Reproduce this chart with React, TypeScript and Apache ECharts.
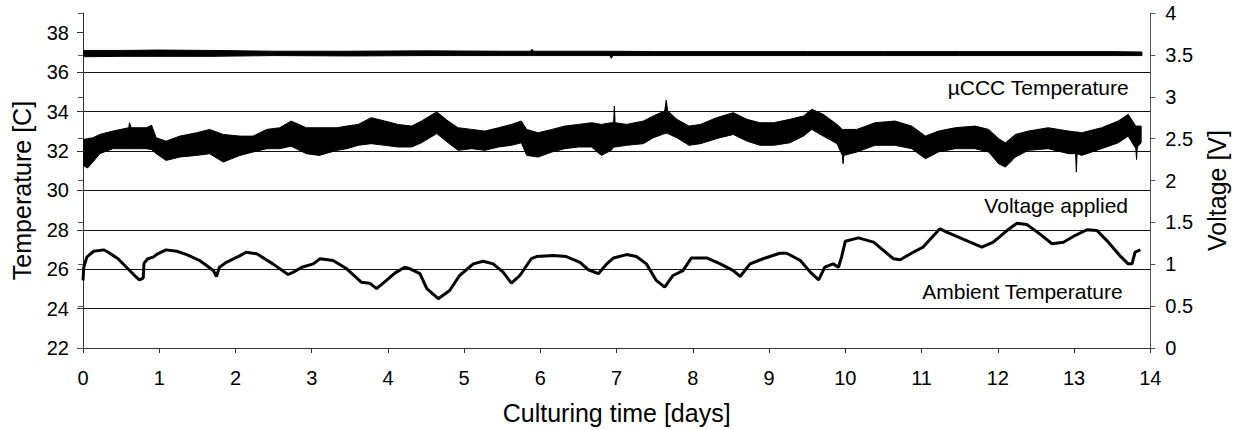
import React, { useEffect, useRef } from "react";
import * as echarts from "echarts";

const FONT = "'Liberation Sans', Arial, Helvetica, sans-serif";

// Axis ticks
const dayTicks = [0, 1, 2, 3, 4, 5, 6, 7, 8, 9, 10, 11, 12, 13, 14];
const tempTicks = [22, 24, 26, 28, 30, 32, 34, 36, 38];
const voltTicks = [0, 0.5, 1, 1.5, 2, 2.5, 3, 3.5, 4];

// Series labels
const seriesLabels = ["µCCC Temperature", "Voltage applied", "Ambient Temperature"];

// Ambient temperature [day, °C]
const ambientTemp: [number, number][] = [
  [0.0, 25.43], [0.01, 26.1], [0.05, 26.61], [0.14, 26.91], [0.27, 26.98], [0.31, 26.91],
  [0.46, 26.53], [0.57, 26.1], [0.7, 25.59], [0.74, 25.46], [0.79, 25.55], [0.8, 26.3],
  [0.85, 26.53], [0.92, 26.61], [0.98, 26.78], [1.09, 26.98], [1.23, 26.91], [1.36, 26.74],
  [1.53, 26.44], [1.71, 25.93], [1.75, 25.63], [1.79, 26.1], [1.88, 26.35], [2.06, 26.69],
  [2.14, 26.86], [2.28, 26.78], [2.49, 26.27], [2.69, 25.73], [2.76, 25.85], [2.87, 26.1],
  [3.02, 26.27], [3.11, 26.53], [3.28, 26.44], [3.46, 26.02], [3.65, 25.34], [3.76, 25.29],
  [3.85, 25.01], [3.98, 25.43], [4.09, 25.8], [4.22, 26.1], [4.29, 26.02], [4.42, 25.77],
  [4.51, 25.01], [4.66, 24.5], [4.81, 24.92], [4.94, 25.68], [5.12, 26.27], [5.25, 26.4],
  [5.38, 26.27], [5.51, 25.85], [5.62, 25.29], [5.73, 25.68], [5.88, 26.53], [5.95, 26.64],
  [6.17, 26.69], [6.34, 26.64], [6.52, 26.35], [6.63, 25.97], [6.76, 25.77], [6.87, 26.27],
  [6.96, 26.57], [7.13, 26.74], [7.26, 26.64], [7.39, 26.27], [7.52, 25.43], [7.63, 25.09],
  [7.74, 25.68], [7.87, 25.93], [7.98, 26.57], [8.18, 26.57], [8.36, 26.27], [8.53, 25.93],
  [8.62, 25.63], [8.75, 26.27], [8.92, 26.53], [9.14, 26.81], [9.23, 26.81], [9.41, 26.44],
  [9.54, 25.85], [9.65, 25.46], [9.73, 26.1], [9.84, 26.27], [9.91, 26.1], [9.95, 26.61],
  [10.0, 27.42], [10.17, 27.59], [10.37, 27.37], [10.63, 26.53], [10.72, 26.48], [10.89, 26.86],
  [11.02, 27.12], [11.24, 28.05], [11.33, 27.88], [11.59, 27.45], [11.79, 27.12], [11.94, 27.37],
  [12.12, 27.96], [12.25, 28.33], [12.38, 28.27], [12.55, 27.79], [12.71, 27.29], [12.86, 27.37],
  [12.99, 27.66], [13.17, 28.0], [13.3, 27.96], [13.43, 27.45], [13.6, 26.69], [13.71, 26.27],
  [13.76, 26.27], [13.8, 26.86], [13.87, 26.98],
];

// µCCC temperature noise envelope [day, low °C, high °C]
const ucccTemp: [number, number, number][] = [
  [0.0, 36.78, 37.1], [0.5, 36.8, 37.1], [1.0, 36.8, 37.12], [1.7, 36.8, 37.1],
  [2.5, 36.84, 37.06], [3.5, 36.82, 37.06], [4.5, 36.84, 37.08], [5.5, 36.84, 37.06],
  [5.87, 36.84, 37.06], [5.89, 36.84, 37.16], [5.91, 36.84, 37.06],
  [6.91, 36.84, 37.06], [6.93, 36.7, 37.06], [6.95, 36.84, 37.06],
  [7.5, 36.84, 37.04], [8.5, 36.84, 37.04], [9.5, 36.84, 37.04], [10.5, 36.84, 37.04],
  [11.5, 36.84, 37.04], [12.5, 36.84, 37.04], [13.5, 36.84, 37.04], [13.89, 36.84, 37.02],
];

// Voltage applied noise envelope [day, low V, high V]
const voltage: [number, number, number][] = [
  [0.0, 2.18, 2.49], [0.06, 2.15, 2.5], [0.13, 2.22, 2.51], [0.22, 2.32, 2.55], [0.39, 2.38, 2.59],
  [0.6, 2.38, 2.63], [0.61, 2.38, 2.69], [0.63, 2.38, 2.63], [0.83, 2.38, 2.63], [0.9, 2.37, 2.66],
  [0.96, 2.32, 2.51], [1.09, 2.24, 2.47], [1.27, 2.28, 2.53], [1.49, 2.3, 2.57], [1.66, 2.32, 2.61],
  [1.84, 2.22, 2.55], [2.06, 2.3, 2.53], [2.23, 2.34, 2.53], [2.41, 2.38, 2.61], [2.58, 2.38, 2.63],
  [2.73, 2.41, 2.71], [2.93, 2.32, 2.63], [3.1, 2.3, 2.63], [3.33, 2.36, 2.63], [3.46, 2.38, 2.65],
  [3.61, 2.42, 2.67], [3.78, 2.44, 2.75], [3.96, 2.42, 2.71], [4.13, 2.4, 2.67], [4.31, 2.4, 2.65],
  [4.44, 2.45, 2.71], [4.64, 2.56, 2.82], [4.79, 2.45, 2.71], [4.92, 2.36, 2.63], [5.1, 2.38, 2.61],
  [5.27, 2.36, 2.59], [5.45, 2.4, 2.63], [5.62, 2.42, 2.67], [5.75, 2.45, 2.71], [5.82, 2.3, 2.61],
  [5.97, 2.28, 2.57], [6.15, 2.34, 2.61], [6.32, 2.38, 2.65], [6.5, 2.4, 2.67], [6.67, 2.4, 2.69],
  [6.8, 2.3, 2.67], [6.93, 2.36, 2.69], [6.96, 2.4, 2.69], [6.97, 2.4, 2.89], [6.98, 2.4, 2.69],
  [7.13, 2.42, 2.67], [7.35, 2.44, 2.71], [7.48, 2.51, 2.77], [7.63, 2.56, 2.83], [7.65, 2.56, 2.96],
  [7.67, 2.56, 2.83], [7.79, 2.51, 2.73], [7.95, 2.42, 2.65], [8.1, 2.44, 2.67], [8.31, 2.5, 2.75],
  [8.53, 2.55, 2.81], [8.71, 2.47, 2.73], [8.88, 2.42, 2.69], [9.06, 2.42, 2.69], [9.27, 2.45, 2.73],
  [9.45, 2.53, 2.77], [9.56, 2.61, 2.85], [9.71, 2.53, 2.79], [9.89, 2.44, 2.67], [9.96, 2.3, 2.61],
  [9.97, 2.2, 2.61], [9.98, 2.3, 2.61], [10.15, 2.34, 2.61], [10.39, 2.42, 2.69], [10.65, 2.42, 2.71],
  [10.87, 2.38, 2.65], [11.05, 2.26, 2.53], [11.22, 2.34, 2.59], [11.44, 2.38, 2.63], [11.7, 2.38, 2.65],
  [11.88, 2.34, 2.61], [12.01, 2.2, 2.5], [12.1, 2.16, 2.45], [12.23, 2.28, 2.55], [12.4, 2.36, 2.59],
  [12.66, 2.38, 2.63], [12.93, 2.32, 2.59], [13.02, 2.32, 2.58], [13.03, 2.1, 2.58], [13.04, 2.32, 2.58],
  [13.1, 2.3, 2.57], [13.36, 2.38, 2.63], [13.58, 2.45, 2.71], [13.71, 2.53, 2.79], [13.81, 2.38, 2.65],
  [13.82, 2.25, 2.65], [13.83, 2.4, 2.65], [13.88, 2.45, 2.65],
];

function bandSeries(name: string, rows: [number, number, number][], yAxisIndex: number) {
  return {
    type: "custom",
    name,
    xAxisIndex: 0,
    yAxisIndex,
    data: rows,
    encode: { x: 0, y: [1, 2] },
    silent: true,
    clip: true,
    renderItem: (params: any, api: any) => {
      if (params.dataIndex !== 0) return null;
      const top = rows.map((r) => api.coord([r[0], r[2]]));
      const bottom = rows.map((r) => api.coord([r[0], r[1]])).reverse();
      return {
        type: "polygon",
        shape: { points: top.concat(bottom) },
        style: { fill: "#000", stroke: "#000", lineWidth: 1 },
      };
    },
  };
}

export default function App() {
  const ref = useRef<HTMLDivElement>(null);

  useEffect(() => {
    document.body.style.margin = "0";
    if (!ref.current) return;
    const chart = echarts.init(ref.current, null, { renderer: "svg" });
    const axisLineColor = "#333";
    chart.setOption({
      animation: false,
      backgroundColor: "#fff",
      textStyle: { fontFamily: FONT, color: "#000" },
      grid: { left: 83, right: 86, top: 13, bottom: 82, containLabel: false },
      xAxis: {
        type: "value",
        min: 0,
        max: 14,
        interval: 1,
        name: "Culturing time [days]",
        nameLocation: "middle",
        nameGap: 52,
        nameTextStyle: { fontSize: 25, color: "#000", fontFamily: FONT },
        axisLine: { show: true, onZero: false, lineStyle: { color: axisLineColor, width: 1 } },
        axisTick: { show: true, inside: false, length: 5, customValues: dayTicks, lineStyle: { color: axisLineColor } },
        axisLabel: { fontSize: 20, color: "#000", margin: 20, fontFamily: FONT, customValues: dayTicks },
        splitLine: { show: false },
      },
      yAxis: [
        {
          type: "value",
          position: "left",
          min: 22,
          max: 39,
          interval: 2,
          name: "Temperature [C]",
          nameLocation: "middle",
          nameGap: 49,
          nameTextStyle: { fontSize: 25, color: "#000", fontFamily: FONT, padding: [0, 20, 0, 0] },
          axisLine: { show: true, onZero: false, lineStyle: { color: axisLineColor, width: 1 } },
          axisTick: { show: true, inside: false, length: 6, customValues: tempTicks, lineStyle: { color: axisLineColor } },
          axisLabel: { fontSize: 20, color: "#000", margin: 14, fontFamily: FONT, customValues: tempTicks },
          splitLine: { show: true, showMaxLine: false, lineStyle: { color: "#111", width: 1 } },
        },
        {
          type: "value",
          position: "right",
          min: 0,
          max: 4,
          interval: 0.5,
          name: "Voltage [V]",
          nameLocation: "middle",
          nameGap: 50,
          nameTextStyle: { fontSize: 25, color: "#000", fontFamily: FONT, padding: [0, 20, 0, 0] },
          axisLine: { show: true, onZero: false, lineStyle: { color: "#555", width: 1 } },
          axisTick: { show: true, inside: false, length: 5, customValues: voltTicks, lineStyle: { color: "#555" } },
          axisLabel: { fontSize: 20, color: "#000", margin: 15, fontFamily: FONT, customValues: voltTicks },
          splitLine: { show: false },
        },
        {
          type: "value",
          position: "right",
          min: 0,
          max: 4,
          interval: 0.5,
          axisLine: { show: false },
          axisTick: { show: true, inside: true, length: 5, customValues: voltTicks, lineStyle: { color: "#555" } },
          axisLabel: { show: false },
          splitLine: { show: false },
        },
      ],
      graphic: [
        {
          type: "text",
          right: 1237 - 1129,
          top: 89 - 12,
          style: { text: seriesLabels[0], fontSize: 21, fill: "#000", font: `21px ${FONT}` },
        },
        {
          type: "text",
          right: 1237 - 1128,
          top: 207 - 12,
          style: { text: seriesLabels[1], fontSize: 21, fill: "#000", font: `21px ${FONT}` },
        },
        {
          type: "text",
          right: 1237 - 1123,
          top: 293 - 12,
          style: { text: seriesLabels[2], fontSize: 21, fill: "#000", font: `21px ${FONT}` },
        },
      ],
      series: [
        bandSeries(seriesLabels[0], ucccTemp, 0),
        bandSeries(seriesLabels[1], voltage, 1),
        {
          type: "line",
          name: seriesLabels[2],
          xAxisIndex: 0,
          yAxisIndex: 0,
          data: ambientTemp,
          showSymbol: false,
          symbol: "none",
          smooth: false,
          silent: true,
          lineStyle: { color: "#000", width: 3 },
        },
      ],
    });
    return () => chart.dispose();
  }, []);

  return <div ref={ref} style={{ width: 1237, height: 430 }} />;
}
